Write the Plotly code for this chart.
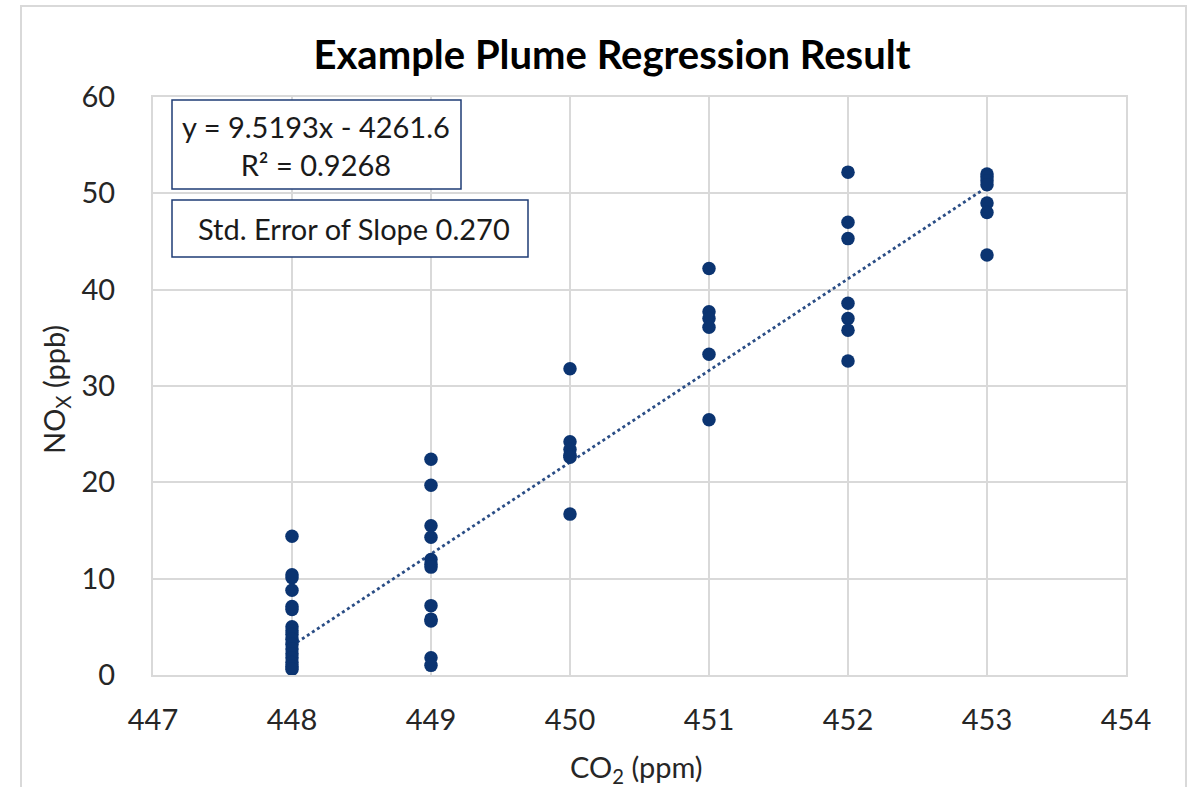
import plotly.graph_objects as go

# ---- data ----
co2_448 = [14.4, 10.4, 10.1, 8.8, 7.1, 6.8, 5.0, 4.6, 4.2, 3.7, 3.2, 2.7, 2.2, 1.8, 1.3, 0.9, 0.6]
co2_449 = [22.4, 19.7, 15.5, 14.3, 12.0, 11.5, 11.2, 7.2, 5.8, 5.6, 1.8, 1.0]
co2_450 = [31.8, 24.2, 23.4, 22.8, 22.6, 16.7]
co2_451 = [42.2, 37.7, 37.0, 36.1, 33.3, 26.5]
co2_452 = [52.2, 47.0, 45.3, 38.6, 37.0, 35.8, 32.6]
co2_453 = [52.0, 51.7, 51.3, 50.9, 49.0, 48.0, 43.6]
co2_levels = [448, 449, 450, 451, 452, 453]
nox_groups = [co2_448, co2_449, co2_450, co2_451, co2_452, co2_453]

slope = 9.5193
intercept = -4261.6
r2 = 0.9268
se_slope = 0.270
x_ticks = [447, 448, 449, 450, 451, 452, 453, 454]
y_ticks = [0, 10, 20, 30, 40, 50, 60]

xs, ys = [], []
for c, g in zip(co2_levels, nox_groups):
    xs += [c] * len(g)
    ys += g

trend_x = [min(co2_levels), max(co2_levels)]
trend_y = [slope * v + intercept for v in trend_x]

NAVY = "#0b3471"
FONT = "Lato, Open Sans, sans-serif"
TXT = "#262626"

fig = go.Figure()
fig.add_trace(go.Scatter(x=trend_x, y=trend_y, mode="lines",
                         line=dict(color="#2a4d85", width=2.8, dash="dot"),
                         showlegend=False, hoverinfo="skip"))
fig.add_trace(go.Scatter(x=xs, y=ys, mode="markers",
                         marker=dict(color=NAVY, size=13.5, line=dict(width=0)),
                         showlegend=False))

W, H = 1191, 787
L, R, T, B = 153, 1126, 97, 675

def px(xp):
    return (xp - L) / (R - L)

def py(yp):
    return (B - yp) / (B - T)

shapes = [
    dict(type="rect", xref="paper", yref="paper", x0=px(21), x1=px(1186), y0=py(800), y1=py(6),
         line=dict(color="#d9d9d9", width=2), layer="below"),
    dict(type="rect", xref="paper", yref="paper", x0=px(172), x1=px(461), y0=py(189), y1=py(100),
         line=dict(color="#1f3d75", width=1.5), fillcolor="white"),
    dict(type="rect", xref="paper", yref="paper", x0=px(172), x1=px(528), y0=py(257), y1=py(200),
         line=dict(color="#1f3d75", width=1.5), fillcolor="white"),
]

annotations = [
    dict(xref="paper", yref="paper", x=px(316), y=py(145), xanchor="center", yanchor="middle",
         text=f"y = {slope}x - {abs(intercept)}<br>R² = {r2}", showarrow=False,
         font=dict(family=FONT, size=29, color="#1a1a1a"), align="center"),
    dict(xref="paper", yref="paper", x=px(354), y=py(229), xanchor="center", yanchor="middle",
         text=f"Std. Error of Slope {se_slope:.3f}", showarrow=False,
         font=dict(family=FONT, size=29, color="#1a1a1a")),
    dict(xref="paper", yref="paper", x=px(55), y=py(390), xanchor="center", yanchor="middle",
         text="NO<sub>X</sub> (ppb)", textangle=-90, showarrow=False,
         font=dict(family=FONT, size=29, color=TXT)),
    dict(xref="paper", yref="paper", x=px(636), y=py(768), xanchor="center", yanchor="middle",
         text="CO<sub>2</sub> (ppm)", showarrow=False,
         font=dict(family=FONT, size=29, color=TXT)),
]

fig.update_layout(
    width=W, height=H,
    margin=dict(l=L, r=W - R, t=T, b=H - B),
    paper_bgcolor="white", plot_bgcolor="white",
    font=dict(family=FONT, size=29, color=TXT),
    title=dict(text="<b>Example Plume Regression Result</b>", xref="paper", x=px(612), xanchor="center",
               yref="container", y=1 - 55 / H, yanchor="middle",
               font=dict(family=FONT, size=40, color="#000000")),
    shapes=shapes, annotations=annotations,
)
fig.update_xaxes(range=[447, 454], tickvals=x_ticks, showgrid=True, gridcolor="#d9d9d9", gridwidth=2,
                 showline=True, linecolor="#d9d9d9", linewidth=2, mirror=True, zeroline=False,
                 ticks="", ticklabelstandoff=18, tickfont=dict(family=FONT, size=29, color=TXT))
fig.update_yaxes(range=[0, 60], tickvals=y_ticks, showgrid=True, gridcolor="#d9d9d9", gridwidth=2,
                 showline=True, linecolor="#d9d9d9", linewidth=2, mirror=True, zeroline=False,
                 ticks="", ticklabelstandoff=30, tickfont=dict(family=FONT, size=29, color=TXT))

fig.write_html("out.html")
